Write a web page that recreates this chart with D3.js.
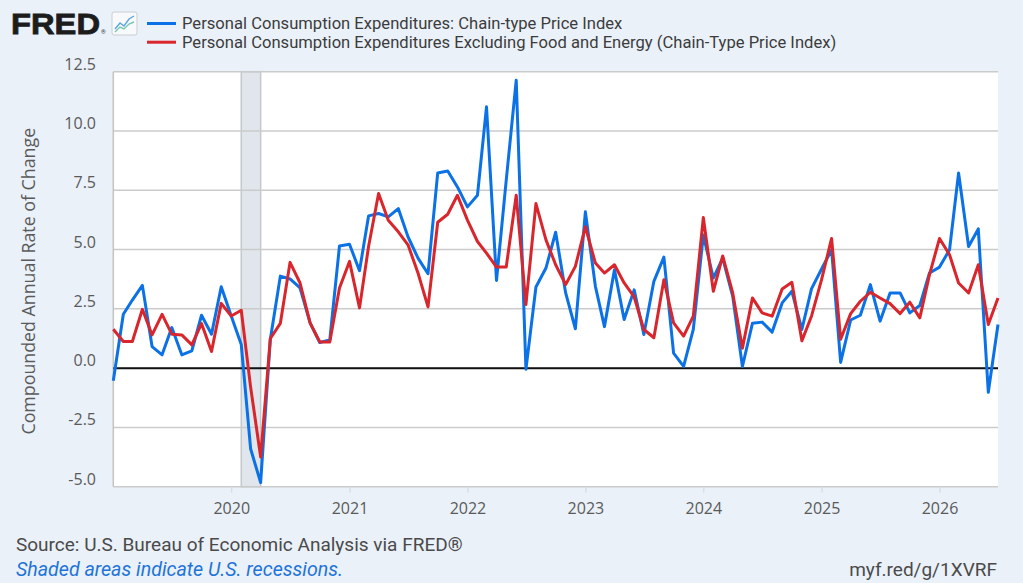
<!DOCTYPE html>
<html>
<head>
<meta charset="utf-8">
<script src="https://cdn.jsdelivr.net/npm/d3@7/dist/d3.min.js"></script>
<style>
body { margin: 0; background: #eaf1f9; overflow: hidden; }
</style>
</head>
<body>
<script>
// monthly observations, Jan 2019 .. Jul 2026
const months = [
    "2019-01","2019-02","2019-03","2019-04","2019-05","2019-06","2019-07","2019-08","2019-09","2019-10","2019-11","2019-12",
    "2020-01","2020-02","2020-03","2020-04","2020-05","2020-06","2020-07","2020-08","2020-09","2020-10","2020-11","2020-12",
    "2021-01","2021-02","2021-03","2021-04","2021-05","2021-06","2021-07","2021-08","2021-09","2021-10","2021-11","2021-12",
    "2022-01","2022-02","2022-03","2022-04","2022-05","2022-06","2022-07","2022-08","2022-09","2022-10","2022-11","2022-12",
    "2023-01","2023-02","2023-03","2023-04","2023-05","2023-06","2023-07","2023-08","2023-09","2023-10","2023-11","2023-12",
    "2024-01","2024-02","2024-03","2024-04","2024-05","2024-06","2024-07","2024-08","2024-09","2024-10","2024-11","2024-12",
    "2025-01","2025-02","2025-03","2025-04","2025-05","2025-06","2025-07","2025-08","2025-09","2025-10","2025-11","2025-12",
    "2026-01","2026-02","2026-03","2026-04","2026-05","2026-06","2026-07"
];
// PCE chain-type price index, compounded annual rate of change
const pce = [
    -0.53, 2.27, 2.87, 3.49, 0.91, 0.56, 1.71, 0.56, 0.73, 2.23, 1.43, 3.43,
    2.20, 1.00, -3.40, -4.83, 1.22, 3.88, 3.76, 3.38, 1.91, 1.08, 1.19, 5.15,
    5.22, 4.11, 6.42, 6.52, 6.38, 6.73, 5.54, 4.64, 3.98, 8.23, 8.31, 7.64,
    6.80, 7.29, 11.02, 3.70, 7.92, 12.14, -0.05, 3.42, 4.22, 5.73, 3.17, 1.66,
    6.59, 3.45, 1.75, 4.15, 2.05, 3.30, 1.42, 3.66, 4.68, 0.63, 0.07, 1.63,
    5.61, 3.80, 4.64, 3.03, 0.07, 1.89, 1.94, 1.52, 2.75, 3.24, 1.63, 3.35,
    4.18, 4.99, 0.24, 2.03, 2.23, 3.52, 1.98, 3.17, 3.17, 2.33, 2.64, 4.01,
    4.26, 4.99, 8.23, 5.13, 5.87, -1.02, 1.84
];
// PCE excluding food and energy
const pceCore = [
    1.64, 1.12, 1.12, 2.48, 1.40, 2.27, 1.43, 1.40, 0.98, 1.88, 0.70, 2.73,
    2.20, 2.44, -0.80, -3.75, 1.25, 1.89, 4.46, 3.59, 1.91, 1.10, 1.10, 3.38,
    4.50, 2.54, 5.13, 7.36, 6.24, 5.75, 5.20, 4.01, 2.58, 6.15, 6.49, 7.29,
    6.24, 5.34, 4.85, 4.26, 4.26, 7.29, 2.68, 6.94, 5.41, 4.36, 3.52, 4.29,
    5.96, 4.43, 4.01, 4.36, 3.59, 3.00, 1.63, 1.28, 3.73, 1.91, 1.35, 2.19,
    6.35, 3.24, 4.73, 3.17, 0.84, 2.96, 2.33, 2.19, 3.34, 3.62, 1.15, 2.20,
    3.73, 5.47, 1.22, 2.30, 2.82, 3.20, 2.96, 2.72, 2.30, 2.78, 2.12, 3.94,
    5.47, 4.78, 3.59, 3.17, 4.36, 1.84, 2.96
];
const yTicks = [-5, -2.5, 0, 2.5, 5, 7.5, 10, 12.5];
const xTicks = ["2020", "2021", "2022", "2023", "2024", "2025", "2026"];
const recessions = [["2020-02", "2020-04"]];
const seriesNames = [
    "Personal Consumption Expenditures: Chain-type Price Index",
    "Personal Consumption Expenditures Excluding Food and Energy (Chain-Type Price Index)"
];
const seriesColors = ["#0a72e6", "#d9262c"];

const width = 1023, height = 583;
const margin = {top: 71.7, right: 25, bottom: 96.3, left: 113.3};
const parse = d3.timeParse("%Y-%m");

const svg = d3.select("body").append("svg")
    .attr("width", width).attr("height", height)
    .style("background", "#eaf1f9");

const xScale = d3.scaleTime()
    .domain([parse(months[0]), parse(months[months.length - 1])])
    .range([margin.left, width - margin.right]);
const yScale = d3.scaleLinear()
    .domain([-5, 12.5])
    .range([height - margin.bottom, margin.top]);

// plot background
svg.append("rect")
    .attr("x", margin.left).attr("y", margin.top)
    .attr("width", xScale.range()[1] - margin.left)
    .attr("height", yScale(-5) - margin.top)
    .attr("fill", "white");

// recession shading
svg.selectAll("rect.recession").data(recessions).join("rect")
    .attr("class", "recession")
    .attr("x", d => xScale(parse(d[0])))
    .attr("width", d => xScale(parse(d[1])) - xScale(parse(d[0])))
    .attr("y", margin.top)
    .attr("height", yScale(-5) - margin.top)
    .attr("fill", "#e1e6ec")
    .attr("stroke", "#c4c8cc")
    .attr("stroke-width", 1.5);

// gridlines
svg.selectAll("line.grid").data(yTicks).join("line")
    .attr("class", "grid")
    .attr("x1", margin.left).attr("x2", xScale.range()[1])
    .attr("y1", d => yScale(d)).attr("y2", d => yScale(d))
    .attr("stroke", "#cbcbcb").attr("stroke-width", 1.5);

// left border
svg.append("line")
    .attr("x1", margin.left).attr("x2", margin.left)
    .attr("y1", margin.top).attr("y2", yScale(-5))
    .attr("stroke", "#c4c4c4").attr("stroke-width", 1.5);

// zero line
svg.append("line")
    .attr("x1", margin.left).attr("x2", xScale.range()[1])
    .attr("y1", yScale(0)).attr("y2", yScale(0))
    .attr("stroke", "#111").attr("stroke-width", 2);

// y tick labels (FRED puts them a little above the line)
svg.selectAll("text.ylab").data(yTicks).join("text")
    .attr("class", "ylab")
    .attr("x", 96).attr("y", d => yScale(d) - 2)
    .attr("text-anchor", "end")
    .attr("font-family", "'Open Sans', sans-serif")
    .attr("font-size", "16px")
    .attr("fill", "#5a5a5a")
    .text(d => d.toFixed(1));

// x axis ticks + labels
const xAxis = d3.axisBottom(xScale)
    .tickValues(xTicks.map(d => d3.timeParse("%Y")(d)))
    .tickFormat(d3.timeFormat("%Y"))
    .tickSize(6).tickPadding(10);
const xg = svg.append("g")
    .attr("transform", `translate(0, ${yScale(-5)})`)
    .call(xAxis);
xg.select(".domain").remove();
xg.selectAll(".tick line").attr("stroke", "#cfd8e2");
xg.selectAll(".tick text")
    .attr("font-family", "'Open Sans', sans-serif")
    .attr("font-size", "16px")
    .attr("fill", "#5a5a5a");

// y axis title
svg.append("text")
    .attr("transform", `translate(35, ${(margin.top + yScale(-5)) / 2 + 2}) rotate(-90)`)
    .attr("text-anchor", "middle")
    .attr("font-family", "'Open Sans', sans-serif")
    .attr("font-size", "17.8px")
    .attr("fill", "#5a5a5a")
    .text("Compounded Annual Rate of Change");

// series
const line = d3.line()
    .x((d, i) => xScale(parse(months[i])))
    .y(d => yScale(d));
[pce, pceCore].forEach((s, k) => {
    svg.append("path")
        .datum(s)
        .attr("d", line)
        .attr("fill", "none")
        .attr("stroke", seriesColors[k])
        .attr("stroke-width", 3)
        .attr("stroke-linejoin", "round");
});

// FRED logo
svg.append("text")
    .attr("x", 11).attr("y", 34)
    .attr("font-family", "'Liberation Sans', Arial, sans-serif")
    .attr("font-weight", "bold")
    .attr("font-size", "30px")
    .attr("textLength", 89).attr("lengthAdjust", "spacingAndGlyphs")
    .attr("fill", "#1c1c1c")
    .attr("stroke", "#1c1c1c").attr("stroke-width", 0.8)
    .text("FRED");
svg.append("text")
    .attr("x", 101).attr("y", 34)
    .attr("font-family", "Roboto, sans-serif")
    .attr("font-size", "6px")
    .attr("fill", "#333")
    .text("®");
const icon = svg.append("g").attr("transform", "translate(112,12)");
icon.append("rect").attr("width", 25).attr("height", 23).attr("rx", 2)
    .attr("fill", "#f7f9fb").attr("stroke", "#c9ced4");
icon.append("path").attr("d", "M3,17 L8,11 L12,14 L17,7 L22,4")
    .attr("fill", "none").attr("stroke", "#5aa7e0").attr("stroke-width", 1.4);
icon.append("path").attr("d", "M3,20 L8,15 L12,17 L17,12 L22,10")
    .attr("fill", "none").attr("stroke", "#7cc7b4").attr("stroke-width", 1.4);

// legend
const legend = svg.selectAll("g.legend").data(seriesNames).join("g")
    .attr("class", "legend")
    .attr("transform", (d, i) => `translate(147, ${23.5 + i * 18.7})`);
legend.append("line")
    .attr("x1", 0).attr("x2", 29)
    .attr("stroke", (d, i) => seriesColors[i]).attr("stroke-width", 3);
legend.append("text")
    .attr("x", 35).attr("y", 5.5)
    .attr("font-family", "Roboto, sans-serif")
    .attr("font-size", "16.6px")
    .attr("fill", "#3c3c3c")
    .text(d => d);

// footer
svg.append("text")
    .attr("x", 16).attr("y", 551)
    .attr("font-family", "Roboto, sans-serif")
    .attr("font-size", "19px")
    .attr("fill", "#4a4a4a")
    .text("Source: U.S. Bureau of Economic Analysis via FRED®");
svg.append("text")
    .attr("x", 16).attr("y", 576)
    .attr("font-family", "Roboto, sans-serif")
    .attr("font-size", "19.6px")
    .attr("font-style", "italic")
    .attr("fill", "#1f74d8")
    .text("Shaded areas indicate U.S. recessions.");
svg.append("text")
    .attr("x", 997).attr("y", 576)
    .attr("text-anchor", "end")
    .attr("font-family", "Roboto, sans-serif")
    .attr("font-size", "19px")
    .attr("fill", "#4a4a4a")
    .text("myf.red/g/1XVRF");
</script>
</body>
</html>
